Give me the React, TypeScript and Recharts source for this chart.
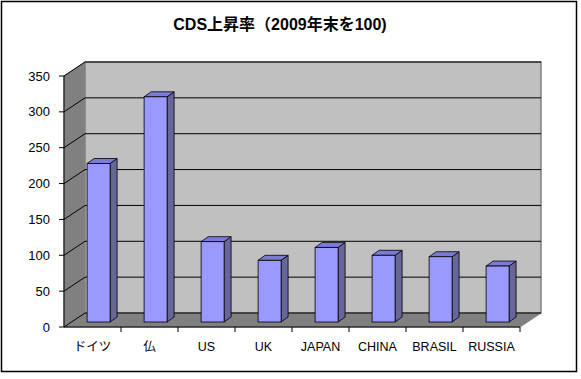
import React from 'react';
import { BarChart, Bar, XAxis, YAxis, ReferenceArea, ReferenceLine } from 'recharts';

const categories = ['ドイツ', '仏', 'US', 'UK', 'JAPAN', 'CHINA', 'BRASIL', 'RUSSIA'];
const values = [221, 314, 112, 86, 104, 93, 91, 78];
const yTicks = [0, 50, 100, 150, 200, 250, 300, 350];
const title = 'CDS上昇率（2009年末を100)';

const data = categories.map((name, i) => ({ name, value: values[i] }));

const DX = 21;
const DY = -14;
const BSX = 6;
const BSY = -5;
const BDX = 7;
const BDY = -5;
const FONT = '"Liberation Sans", Arial, "Noto Sans CJK JP", sans-serif';

const Walls = (props: any) => {
  const { x, y, width, height } = props;
  const x0 = x, x1 = x + width, yT = y, yB = y + height;
  return (
    <g>
      <polygon points={`${x0},${yB} ${x0},${yT} ${x0 + DX},${yT + DY} ${x0 + DX},${yB + DY}`} fill="#808080" stroke="#808080" />
      <polygon points={`${x0},${yB} ${x1},${yB} ${x1 + DX},${yB + DY} ${x0 + DX},${yB + DY}`} fill="#808080" stroke="#808080" />
      <rect x={x0 + DX} y={yT + DY} width={width} height={height} fill="#c0c0c0" stroke="#808080" strokeWidth={1.5} />
    </g>
  );
};

const GridLine = (props: any) => {
  const { x1, y1, x2, y2 } = props;
  return (
    <g>
      <line x1={x1} y1={y1} x2={x1 + DX} y2={y1 + DY} stroke="#000" strokeWidth={1} />
      <line x1={x1 + DX} y1={y1 + DY} x2={x2 + DX} y2={y2 + DY} stroke="#000" strokeWidth={1} />
    </g>
  );
};

const Bar3D = (props: any) => {
  const { x, y, width, height } = props;
  if (height == null || height <= 0) return null;
  const fx = x + BSX;
  const fy = y + BSY;
  return (
    <g>
      <polygon
        points={`${fx + width},${fy} ${fx + width + BDX},${fy + BDY} ${fx + width + BDX},${fy + height + BDY} ${fx + width},${fy + height}`}
        fill="#666699" stroke="#000" strokeWidth={0.8}
      />
      <polygon
        points={`${fx},${fy} ${fx + BDX},${fy + BDY} ${fx + width + BDX},${fy + BDY} ${fx + width},${fy}`}
        fill="#7b7bd6" stroke="#000" strokeWidth={0.8}
      />
      <rect x={fx} y={fy} width={width} height={height} fill="#9999ff" stroke="#000" strokeWidth={0.8} />
    </g>
  );
};

const XTick = (props: any) => {
  const { x, y, payload } = props;
  const off = payload && payload.offset ? payload.offset : 28.5;
  return (
    <g>
      <line x1={x + off} y1={y - 8} x2={x + off} y2={y - 3} stroke="#000" />
      <text x={x} y={y + 16} textAnchor="middle" fontSize={12.5} fontFamily={FONT} fill="#000">
        {payload.value}
      </text>
    </g>
  );
};

export default function App() {
  return (
    <div style={{ position: 'absolute', left: 0, top: 0, width: 581, height: 379, background: '#fff' }}>
      <svg width={581} height={379} style={{ position: 'absolute', left: 0, top: 0 }}>
        <rect x={1.5} y={1.5} width={575} height={370} fill="#fff" stroke="#000" strokeWidth={1.5} />
        <text x={280} y={30} textAnchor="middle" fontFamily={FONT} fontWeight="bold" fontSize={16} fill="#000">
          {title}
        </text>
      </svg>
      <div style={{ position: 'absolute', left: 0, top: 0 }}>
        <BarChart
          width={581}
          height={379}
          data={data}
          margin={{ top: 76, right: 61, bottom: 22, left: 4 }}
          barCategoryGap="30%"
        >
          <ReferenceArea y1={0} y2={350} fill="none" stroke="none" shape={<Walls />} ifOverflow="visible" zIndex={-60} />
          {yTicks.map((t) => (
            <ReferenceLine key={t} y={t} shape={<GridLine />} ifOverflow="visible" zIndex={-55} />
          ))}
          <XAxis
            dataKey="name"
            axisLine={{ stroke: '#000' }}
            tickLine={false}
            tick={<XTick />}
            height={30}
            interval={0}
          />
          <YAxis
            domain={[0, 350]}
            ticks={yTicks}
            width={60}
            axisLine={{ stroke: '#000' }}
            tickLine={{ stroke: '#000' }}
            tickSize={5}
            tickMargin={9}
            tick={{ fontSize: 13, fontFamily: FONT, fill: '#000' }}
            interval={0}
          />
          <Bar dataKey="value" shape={<Bar3D />} isAnimationActive={false} />
        </BarChart>
      </div>
    </div>
  );
}
